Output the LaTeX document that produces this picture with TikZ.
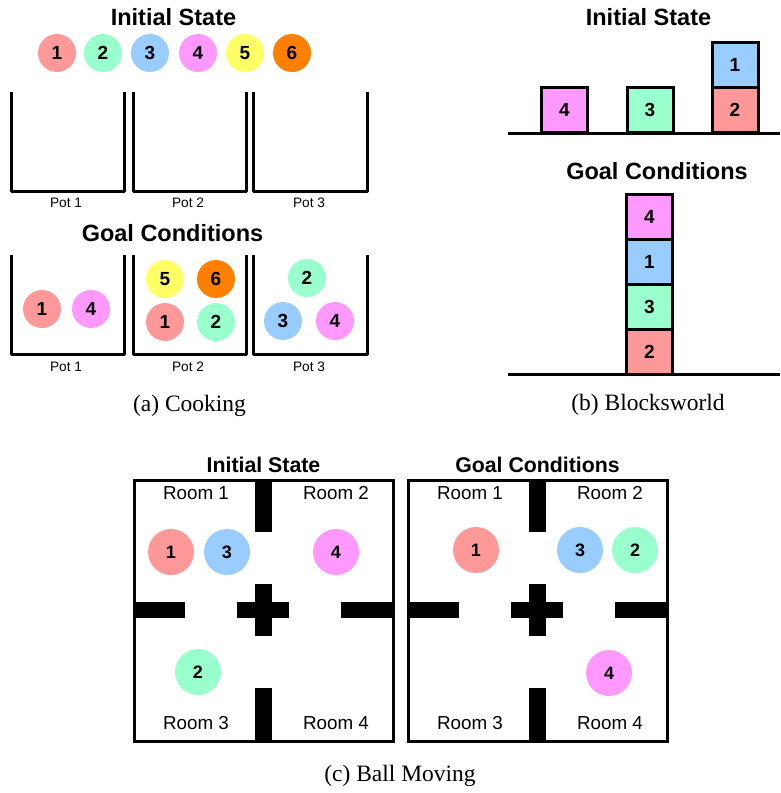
\documentclass[tikz,border=0pt]{standalone}
\usepackage{fontspec}
\setmainfont{Liberation Serif}
\setsansfont{Liberation Sans}
\definecolor{cr}{HTML}{FF9999}
\definecolor{cg}{HTML}{99FFCC}
\definecolor{cb}{HTML}{99CCFF}
\definecolor{cp}{HTML}{FF99FF}
\definecolor{cy}{HTML}{FFFF66}
\definecolor{co}{HTML}{FF8000}
\tikzset{
  ball/.style={circle, minimum size=38pt, inner sep=0pt, font=\sffamily\bfseries\fontsize{19}{19}\selectfont},
  bigball/.style={ball, minimum size=46pt, font=\sffamily\bfseries\fontsize{18}{18}\selectfont},
  block/.style={draw, line width=3pt, minimum width=46pt, minimum height=45pt, inner sep=0pt, font=\sffamily\bfseries\fontsize{19}{19}\selectfont},
  title/.style={font=\sffamily\bfseries\fontsize{23.5}{23.5}\selectfont, inner sep=0pt},
  smalltitle/.style={font=\sffamily\bfseries\fontsize{21.3}{21.3}\selectfont, inner sep=0pt},
  potlabel/.style={font=\sffamily\fontsize{13.7}{13.7}\selectfont, inner sep=0pt},
  roomlabel/.style={font=\sffamily\fontsize{18.8}{18.8}\selectfont, inner sep=0pt},
  caption/.style={font=\fontsize{23.5}{23.5}\selectfont, inner sep=0pt, anchor=base},
  pot/.style={line width=3pt, line join=round},
  thick3/.style={line width=3pt},
  wall/.style={fill=black},
}
\begin{document}
\begin{tikzpicture}[x=1pt,y=-1pt]
\useasboundingbox (0,0) rectangle (780,793);
% ---------- (a) Cooking ----------
\node[title] (ci) at (173.5,17) {Initial State};
\node[ball, fill=cr] (i1) at (57,53) {1};
\node[ball, fill=cg] (i2) at (103,53) {2};
\node[ball, fill=cb] (i3) at (150,53) {3};
\node[ball, fill=cp] (i4) at (198,53) {4};
\node[ball, fill=cy] (i5) at (245,53) {5};
\node[ball, fill=co] (i6) at (292,53) {6};
\draw[pot] (11,92) -- (11,191) -- (124,191) -- (124,92);
\draw[pot] (133,92) -- (133,191) -- (246,191) -- (246,92);
\draw[pot] (253,92) -- (253,191) -- (367,191) -- (367,92);
\node[potlabel] (p1a) at (66,203) {Pot 1};
\node[potlabel] (p2a) at (188,203) {Pot 2};
\node[potlabel] (p3a) at (309,203) {Pot 3};
\node[title] (cg) at (172.5,233) {Goal Conditions};
\draw[pot] (11,255) -- (11,354) -- (124,354) -- (124,255);
\draw[pot] (133,255) -- (133,354) -- (246,354) -- (246,255);
\draw[pot] (253,255) -- (253,354) -- (367,354) -- (367,255);
\node[ball, fill=cr] (g11) at (42,309) {1};
\node[ball, fill=cp] (g14) at (91,309) {4};
\node[ball, fill=cy] (g25) at (165,279) {5};
\node[ball, fill=co] (g26) at (216,279) {6};
\node[ball, fill=cr] (g21) at (165,322) {1};
\node[ball, fill=cg] (g22) at (216,322) {2};
\node[ball, fill=cg] (g32) at (307,278) {2};
\node[ball, fill=cb] (g33) at (283,321) {3};
\node[ball, fill=cp] (g34) at (335,321) {4};
\node[potlabel] (p1b) at (66,367) {Pot 1};
\node[potlabel] (p2b) at (188,367) {Pot 2};
\node[potlabel] (p3b) at (309,367) {Pot 3};
\node[caption] (capa) at (189.5,411) {(a) Cooking};
% ---------- (b) Blocksworld ----------
\node[title] (bi) at (648.5,17) {Initial State};
\draw[thick3] (508,133) -- (780,133);
\node[block, fill=cp] (b4) at (564.5,110) {4};
\node[block, fill=cg] (b3) at (650,110) {3};
\node[block, fill=cr] (b2) at (735,110) {2};
\node[block, fill=cb] (b1) at (735,64.5) {1};
\node[title] (bg) at (657,171) {Goal Conditions};
\draw[thick3] (508,374.5) -- (780,374.5);
\node[block, fill=cr] (s2) at (649.5,352) {2};
\node[block, fill=cg] (s3) at (649.5,307) {3};
\node[block, fill=cb] (s1) at (649.5,262) {1};
\node[block, fill=cp] (s4) at (649.5,217) {4};
\node[caption] (capb) at (648,410) {(b) Blocksworld};
% ---------- (c) Ball Moving ----------
\foreach \dx/\lab in {0/Initial State, 274/Goal Conditions} {
  \begin{scope}[xshift=\dx]
    \node[smalltitle] at (263.5,465) {\lab};
    \draw[thick3] (134,480) rectangle (393,741);
    \fill[wall] (255,480) rectangle (272,532);
    \fill[wall] (255,688) rectangle (272,741);
    \fill[wall] (134,602) rectangle (185,618);
    \fill[wall] (341,602) rectangle (393,618);
    \fill[wall] (237,602) rectangle (289,618);
    \fill[wall] (255,584) rectangle (272,636);
    \node[roomlabel] at (196,493) {Room 1};
    \node[roomlabel] at (336,493) {Room 2};
    \node[roomlabel] at (196,723) {Room 3};
    \node[roomlabel] at (336,723) {Room 4};
  \end{scope}
}
\node[bigball, fill=cr] (m1) at (171,552) {1};
\node[bigball, fill=cb] (m3) at (227,552) {3};
\node[bigball, fill=cp] (m4) at (336,552) {4};
\node[bigball, fill=cg] (m2) at (198,672) {2};
\node[bigball, fill=cr] (n1) at (476,550) {1};
\node[bigball, fill=cb] (n3) at (580,550) {3};
\node[bigball, fill=cg] (n2) at (635,550) {2};
\node[bigball, fill=cp] (n4) at (609,673) {4};
\node[caption] (capc) at (400,781) {(c) Ball Moving};
\end{tikzpicture}
\end{document}
